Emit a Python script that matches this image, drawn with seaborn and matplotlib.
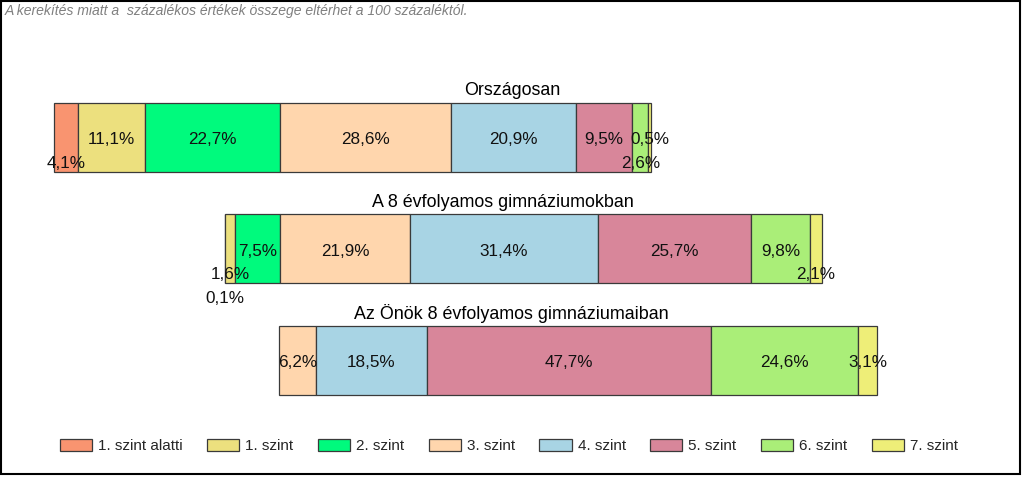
import matplotlib
matplotlib.use("Agg")
import matplotlib.pyplot as plt
from matplotlib.patches import Patch, Rectangle
import numpy as np
import pandas as pd
import seaborn as sns

# ---- data ----
groups = ["Országosan", "A 8 évfolyamos gimnáziumokban", "Az Önök 8 évfolyamos gimnáziumaiban"]
levels = ["1. szint alatti", "1. szint", "2. szint", "3. szint", "4. szint", "5. szint", "6. szint", "7. szint"]
orszagos = [4.1, 11.1, 22.7, 28.6, 20.9, 9.5, 2.6, 0.5]
gimn8 = [0.1, 1.6, 7.5, 21.9, 31.4, 25.7, 9.8, 2.1]
onok = [0.0, 0.0, 0.0, 6.2, 18.5, 47.7, 24.6, 3.1]
start_offsets = [0.0, 28.6, 37.7]  # where each bar begins (percent units)
note = "A kerekítés miatt a  százalékos értékek összege eltérhet a 100 százaléktól."

colors = ["#F99470", "#ECE07E", "#00FA7D", "#FFD6AD", "#A8D4E4", "#D8869A", "#AAEE78", "#EEEE78"]
# label placement: 0 = middle, 1 = lower inside, 2 = below bar
label_rows = [[1, 0, 0, 0, 0, 0, 1, 0],
              [2, 1, 0, 0, 0, 0, 0, 1],
              [0, 0, 0, 0, 0, 0, 0, 0]]
title_px = [512, 503, 511]

sns.set_theme(style="white")
plt.rcParams["font.family"] = ["Liberation Sans", "DejaVu Sans"]

df = pd.DataFrame([orszagos, gimn8, onok], index=groups, columns=levels)

fig = plt.figure(figsize=(10.24, 4.78), dpi=100)
ax = fig.add_axes([0, 0, 1, 1])
ax.set_xlim(-54 / 5.97, (1024 - 54) / 5.97)
ax.set_ylim((478 - 137.5) / 111.5, -137.5 / 111.5)
ax.axis("off")

bar_h = 69 / 111.5
for i, g in enumerate(groups):
    left = start_offsets[i]
    for j, lev in enumerate(levels):
        v = df.loc[g, lev]
        if v <= 0:
            continue
        ax.barh(i, v, left=left, height=bar_h, color=colors[j],
                edgecolor="#3a3a3a", linewidth=0.9)
        txt = f"{v:.1f}".replace(".", ",") + "%"
        pos = label_rows[i][j]
        dy = [0.02, 0.23, 0.44][pos]
        ax.text(left + v / 2, i + dy, txt, ha="center", va="center",
                fontsize=12.3, color="#111111")
        left += v
    ax.text((title_px[i] - 54) / 5.97, i - 0.42, g, ha="center", va="center",
            fontsize=12.9, color="#000000")

fig.text(5 / 1024, 1 - 11 / 478, note, ha="left", va="center",
         fontsize=10.1, style="italic", color="#808080")

handles = [Patch(facecolor=c, edgecolor="#3a3a3a", linewidth=0.9, label=l)
           for c, l in zip(colors, levels)]
fig.legend(handles=handles, loc="center", bbox_to_anchor=(0.497, 1 - 446 / 478),
           ncol=8, frameon=False, fontsize=11, handlelength=2.1, handleheight=0.9,
           handletextpad=0.4, columnspacing=1.6)

# outer frame
fig.patches.append(Rectangle((0.5 / 1024, 4 / 478), 1019 / 1024, 473 / 478,
                             transform=fig.transFigure, fill=False,
                             edgecolor="black", linewidth=1.5))

fig.savefig("out.png", dpi=100)
